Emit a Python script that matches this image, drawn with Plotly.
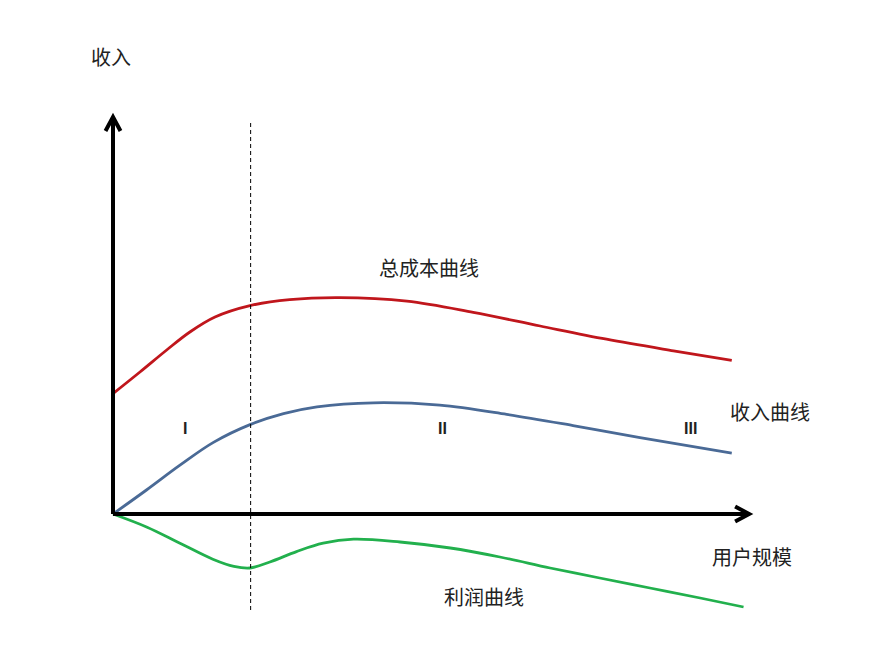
import plotly.graph_objects as go

# Data (arbitrary units: user scale on x, amount on y)
x_cost = [0, 4.35, 8.66, 12.4, 16.45, 22.1, 28.5, 36.6, 47.4, 58.1, 68.9, 79.6, 90.4, 99.8]
y_cost = [30.1, 35.5, 41.0, 45.5, 49.25, 52.1, 53.6, 54.1, 53.2, 50.4, 47.0, 43.7, 40.8, 38.4]

x_rev = [0, 5.4, 10.8, 16.2, 22.2, 27.5, 32.9, 42.0, 52.7, 63.5, 74.2, 85.0, 99.8]
y_rev = [0, 6.0, 12.2, 17.9, 22.4, 25.1, 26.8, 27.8, 27.2, 24.9, 22.1, 19.1, 15.2]

x_profit = [0, 5.5, 10.8, 16.1, 19.5, 22.1, 25.3, 29.6, 33.9, 38.8, 46.3, 54.4, 62.4,
            70.5, 78.5, 86.6, 94.7, 101.7]
y_profit = [0, -3.3, -7.3, -11.3, -13.1, -13.5, -12.0, -9.4, -7.3, -6.3, -7.0, -8.5, -10.75,
            -13.5, -16.0, -18.5, -21.0, -23.25]

stage_x = 22.2
x_axis_end = 102.6
y_axis_end = 99.25

labels = ["收入", "总成本曲线", "收入曲线", "用户规模", "利润曲线"]
label_x = [-0.3, 50.9, 106.0, 103.0, 59.9]
label_y = [114.5, 61.75, 25.75, -10.5, -20.5]

stages = ["I", "II", "III"]
stage_lx = [11.6, 53.2, 93.2]
stage_ly = [21.5, 21.5, 21.5]

# layout scale (px per unit); page body has an 8px margin
SX, SY = 6.2, 4.0
X0, Y0 = 105, 506
W, H = 862, 645

line_w = 2.8
fig = go.Figure()
fig.add_trace(go.Scatter(x=x_cost, y=y_cost, mode="lines",
                         line=dict(color="#C0161C", width=line_w, shape="spline", smoothing=1), hoverinfo="skip"))
fig.add_trace(go.Scatter(x=x_rev, y=y_rev, mode="lines",
                         line=dict(color="#4A6A96", width=line_w, shape="spline", smoothing=1), hoverinfo="skip"))
fig.add_trace(go.Scatter(x=x_profit, y=y_profit, mode="lines",
                         line=dict(color="#22B04D", width=line_w, shape="spline", smoothing=1), hoverinfo="skip"))

shapes = []
shapes.append(dict(type="line", x0=0, y0=0, x1=x_axis_end, y1=0, line=dict(color="black", width=4)))
shapes.append(dict(type="line", x0=0, y0=0, x1=0, y1=y_axis_end, line=dict(color="black", width=4)))
back, side = 14, 7.5
shapes.append(dict(type="path",
                   path=f"M {x_axis_end - back/SX},{side/SY} L {x_axis_end},0 L {x_axis_end - back/SX},{-side/SY}",
                   line=dict(color="black", width=4)))
shapes.append(dict(type="path",
                   path=f"M {-side/SX},{y_axis_end - back/SY} L 0,{y_axis_end} L {side/SX},{y_axis_end - back/SY}",
                   line=dict(color="black", width=4)))
shapes.append(dict(type="line", x0=stage_x, y0=97.75, x1=stage_x, y1=-24.5,
                   line=dict(color="black", width=1, dash="4px,3px")))

annotations = []
for t, xx, yy in zip(labels, label_x, label_y):
    annotations.append(dict(x=xx, y=yy, text=t, showarrow=False,
                            font=dict(family="Noto Sans CJK SC", size=20, color="#222222")))
for t, xx, yy in zip(stages, stage_lx, stage_ly):
    annotations.append(dict(x=xx, y=yy, text=f"<b>{t}</b>", showarrow=False,
                            font=dict(family="Liberation Sans", size=16, color="#222222")))

fig.update_layout(
    width=W, height=H,
    margin=dict(l=0, r=0, t=0, b=0),
    paper_bgcolor="white", plot_bgcolor="white",
    showlegend=False,
    xaxis=dict(range=[-X0/SX, (W - X0)/SX], visible=False, fixedrange=True),
    yaxis=dict(range=[-(H - Y0)/SY, Y0/SY], visible=False, fixedrange=True),
    shapes=shapes, annotations=annotations,
)

fig.write_html("out.html")
